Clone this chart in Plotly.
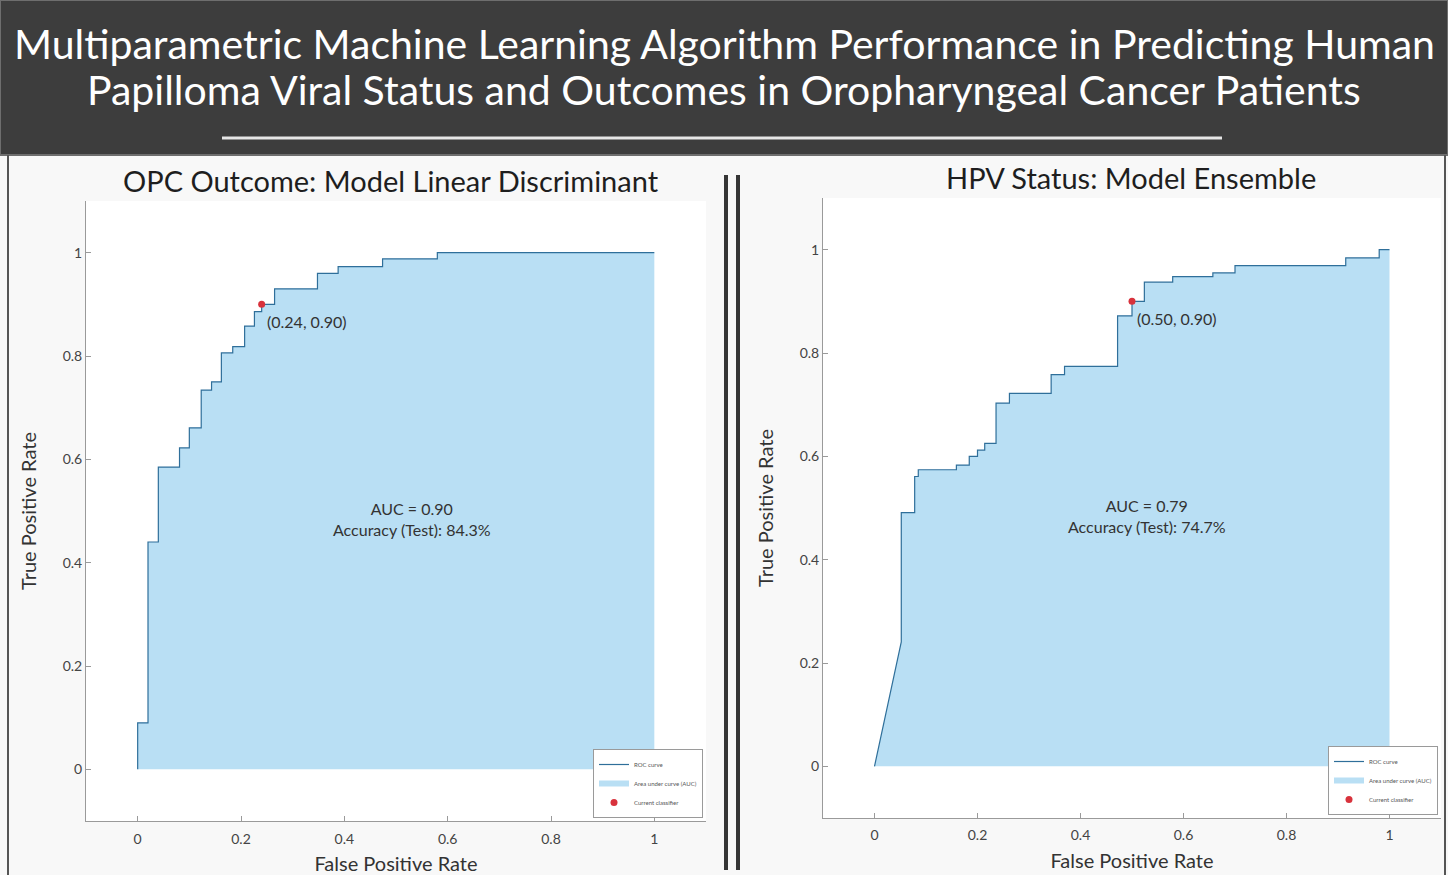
import plotly.graph_objects as go

# ---- OPC outcome, linear discriminant model: ROC curve vertices ----
opc_fpr = [0, 0, 0.02, 0.02, 0.04, 0.04, 0.081, 0.081, 0.10, 0.10, 0.123, 0.123,
           0.143, 0.143, 0.162, 0.162, 0.184, 0.184, 0.207, 0.207, 0.226, 0.226,
           0.24, 0.24, 0.265, 0.265, 0.348, 0.348, 0.388, 0.388, 0.474, 0.474,
           0.58, 0.58, 1.0]
opc_tpr = [0, 0.09, 0.09, 0.44, 0.44, 0.585, 0.585, 0.622, 0.622, 0.661, 0.661,
           0.734, 0.734, 0.75, 0.75, 0.806, 0.806, 0.818, 0.818, 0.858, 0.858,
           0.886, 0.886, 0.90, 0.90, 0.93, 0.93, 0.96, 0.96, 0.973, 0.973,
           0.988, 0.988, 1.0, 1.0]
opc_point = (0.24, 0.90)
opc_auc = 0.90
opc_acc = 84.3

# ---- HPV status, ensemble model: ROC curve vertices ----
hpv_fpr = [0, 0.052, 0.052, 0.078, 0.078, 0.085, 0.085, 0.159, 0.159, 0.184, 0.184,
           0.20, 0.20, 0.214, 0.214, 0.236, 0.236, 0.262, 0.262, 0.343, 0.343,
           0.369, 0.369, 0.472, 0.472, 0.50, 0.50, 0.524, 0.524, 0.579, 0.579,
           0.657, 0.657, 0.70, 0.70, 0.915, 0.915, 0.98, 0.98, 1.0]
hpv_tpr = [0, 0.241, 0.491, 0.491, 0.561, 0.561, 0.574, 0.574, 0.583, 0.583, 0.600,
           0.600, 0.612, 0.612, 0.625, 0.625, 0.703, 0.703, 0.722, 0.722, 0.758,
           0.758, 0.774, 0.774, 0.872, 0.872, 0.900, 0.900, 0.937, 0.937, 0.948,
           0.948, 0.955, 0.955, 0.969, 0.969, 0.984, 0.984, 1.0, 1.0]
hpv_point = (0.50, 0.90)
hpv_auc = 0.79
hpv_acc = 74.7

tick_vals = [0, 0.2, 0.4, 0.6, 0.8, 1]
tick_text = ["0", "0.2", "0.4", "0.6", "0.8", "1"]

W, H = 1448, 875
FONT = "Lato"
LINE_C = "#2f6f9a"
FILL_C = "#b9dff4"
DOT_C = "#d8323c"


def px_x(p):
    return p / W


def px_y(p):
    return 1 - p / H


fig = go.Figure()

panels = [
    dict(fpr=opc_fpr, tpr=opc_tpr, pt=opc_point, auc=opc_auc, acc=opc_acc,
         xa="x", ya="y", legend="legend"),
    dict(fpr=hpv_fpr, tpr=hpv_tpr, pt=hpv_point, auc=hpv_auc, acc=hpv_acc,
         xa="x2", ya="y2", legend="legend2"),
]

for p in panels:
    # shaded area first so the curve sits on top of it
    fig.add_trace(go.Scatter(
        x=p["fpr"], y=p["tpr"], mode="none", fill="tozeroy", fillcolor=FILL_C,
        name="Area under curve (AUC)", legendrank=2,
        xaxis=p["xa"], yaxis=p["ya"], legend=p["legend"]))
    fig.add_trace(go.Scatter(
        x=p["fpr"], y=p["tpr"], mode="lines", name="ROC curve", legendrank=1,
        line=dict(color=LINE_C, width=1.2),
        xaxis=p["xa"], yaxis=p["ya"], legend=p["legend"]))
    fig.add_trace(go.Scatter(
        x=[p["pt"][0]], y=[p["pt"][1]], mode="markers", name="Current classifier",
        legendrank=3, marker=dict(color=DOT_C, size=7, symbol="circle"),
        xaxis=p["xa"], yaxis=p["ya"], legend=p["legend"]))

axis_common = dict(
    range=[-0.1, 1.1], tickvals=tick_vals, ticktext=tick_text,
    showgrid=False, zeroline=False, showline=True, linecolor="#9a9a9a",
    linewidth=1, ticks="inside", ticklen=5, tickcolor="#9a9a9a",
    tickfont=dict(family=FONT, size=14, color="#444444"),
)
title_font = dict(family=FONT, size=20, color="#333333")

legend_common = dict(
    xanchor="right", yanchor="bottom",
    bgcolor="#ffffff", bordercolor="#9a9a9a", borderwidth=1,
    font=dict(family=FONT, size=6, color="#555555"),
    tracegroupgap=0, itemwidth=30,
)

fig.update_layout(
    width=W, height=H,
    margin=dict(l=0, r=0, t=0, b=0),
    paper_bgcolor="#f8f8f8",
    plot_bgcolor="#ffffff",
    font=dict(family=FONT),
    xaxis=dict(axis_common, domain=[px_x(86), px_x(706)], anchor="y",
               ticklabelstandoff=5,
               title=dict(text="False Positive Rate", standoff=12, font=title_font)),
    yaxis=dict(axis_common, domain=[px_y(821), px_y(201)], anchor="x",
               title=dict(text="True Positive Rate", standoff=20, font=title_font)),
    xaxis2=dict(axis_common, domain=[px_x(823), px_x(1441)], anchor="y2",
                ticklabelstandoff=4,
                title=dict(text="False Positive Rate", standoff=12, font=title_font)),
    yaxis2=dict(axis_common, domain=[px_y(818), px_y(198)], anchor="x2",
                title=dict(text="True Positive Rate", standoff=20, font=title_font)),
    legend=dict(legend_common, x=px_x(703), y=px_y(818)),
    legend2=dict(legend_common, x=px_x(1438), y=px_y(815)),
    showlegend=True,
)

shapes = [
    # header band
    dict(type="rect", xref="paper", yref="paper", x0=0, x1=1, y0=px_y(155), y1=1,
         fillcolor="#3d3d3d", line=dict(color="#6e6e6e", width=2), layer="below"),
    # rule under the title
    dict(type="line", xref="paper", yref="paper", x0=px_x(222), x1=px_x(1222),
         y0=px_y(138), y1=px_y(138), line=dict(color="#e6e6e6", width=3)),
    # outer frame edges
    dict(type="line", xref="paper", yref="paper", x0=px_x(8), x1=px_x(8),
         y0=0, y1=px_y(155), line=dict(color="#555555", width=2)),
    dict(type="line", xref="paper", yref="paper", x0=px_x(1445), x1=px_x(1445),
         y0=0, y1=px_y(155), line=dict(color="#555555", width=2)),
    # double divider between the panels
    dict(type="line", xref="paper", yref="paper", x0=px_x(726), x1=px_x(726),
         y0=px_y(870), y1=px_y(175), line=dict(color="#363636", width=4)),
    dict(type="line", xref="paper", yref="paper", x0=px_x(738), x1=px_x(738),
         y0=px_y(870), y1=px_y(175), line=dict(color="#363636", width=4)),
]
fig.update_layout(shapes=shapes)

annotations = [
    dict(text="Multiparametric Machine Learning Algorithm Performance in Predicting Human",
         xref="paper", yref="paper", x=0.5, y=px_y(43), xanchor="center",
         yanchor="middle", showarrow=False,
         font=dict(family=FONT, size=41, color="#ffffff")),
    dict(text="Papilloma Viral Status and Outcomes in Oropharyngeal Cancer Patients",
         xref="paper", yref="paper", x=0.5, y=px_y(89), xanchor="center",
         yanchor="middle", showarrow=False,
         font=dict(family=FONT, size=41, color="#ffffff")),
    dict(text="OPC Outcome: Model Linear Discriminant",
         xref="paper", yref="paper", x=px_x(391), y=px_y(180), xanchor="center",
         yanchor="middle", showarrow=False,
         font=dict(family=FONT, size=29, color="#1e1e1e")),
    dict(text="HPV Status: Model Ensemble",
         xref="paper", yref="paper", x=px_x(1131), y=px_y(177), xanchor="center",
         yanchor="middle", showarrow=False,
         font=dict(family=FONT, size=29, color="#1e1e1e")),
]

for p in panels:
    px_, py_ = p["pt"]
    annotations.append(dict(
        text=f"({px_:.2f}, {py_:.2f})", x=px_, y=py_, xref=p["xa"], yref=p["ya"],
        xanchor="left", yanchor="top", xshift=3, yshift=-6, showarrow=False,
        font=dict(family=FONT, size=16, color="#333333")))
    annotations.append(dict(
        text=f"AUC = {p['auc']:.2f}<br>Accuracy (Test): {p['acc']:.1f}%",
        x=0.53, y=0.485, xref=p["xa"], yref=p["ya"], showarrow=False,
        font=dict(family=FONT, size=16, color="#333333")))

fig.update_layout(annotations=annotations)

fig.write_html("out.html")
